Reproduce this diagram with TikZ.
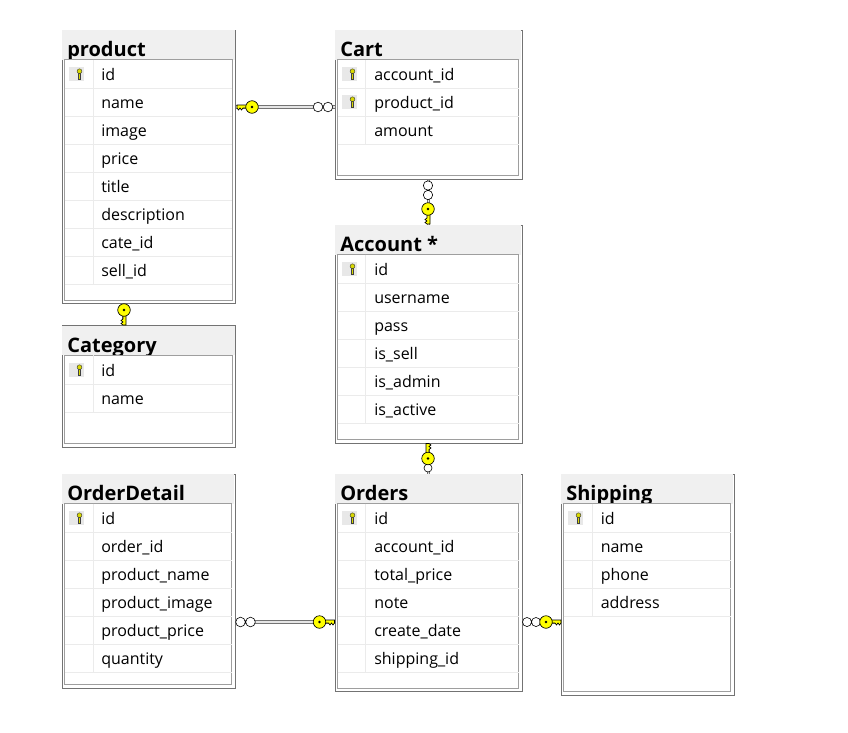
\documentclass[tikz,border=0pt]{standalone}
\usepackage{fontspec}
\setmainfont{Open Sans}
\definecolor{keyyellow}{HTML}{FFFF00}
\tikzset{
    tabframe/.style={draw=black!55, fill=white, line width=0.75pt, anchor=north west, inner sep=0pt},
    headfill/.style={fill=black!6},
    innerframe/.style={draw=black!38, fill=white, line width=0.75pt},
    rowline/.style={draw=black!8, line width=0.75pt},
    tabtitle/.style={anchor=base west, inner sep=0pt, font=\fontsize{15}{18}\selectfont\bfseries},
    coltext/.style={anchor=base west, inner sep=0pt, font=\fontsize{12}{14}\selectfont},
    relline/.style={draw=black!55, double=black!10, double distance=0.9pt, line width=0.7pt},
    manyend/.style={draw=black, fill=white, line width=0.45pt},
    keyline/.style={draw=black, fill=keyyellow, line width=0.5pt},
    pkey/.pic={
        \fill[black!9] (0,-7) rectangle (15.5,7);
        \filldraw[draw=black!75, fill=keyyellow!85!black, line width=0.35pt] (10,-1) rectangle (12,5.5);
        \filldraw[draw=black!75, fill=keyyellow!85!black, line width=0.35pt] (11,-2.8) circle[radius=1.8pt];
    },
    relkey/.pic={
        \filldraw[keyline] (4,-2) -- (15,-2) -- (15,1) -- (13.5,3) -- (12,1) -- (10.5,3) -- (9,1) -- (4,1) -- cycle;
        \filldraw[keyline] (0,0) circle[radius=4.7pt];
        \fill (0,0) circle[radius=1pt];
    }
}
\begin{document}
\begin{tikzpicture}[x=0.75pt,y=-0.75pt]
    \useasboundingbox (0,0) rectangle (848,732);

    \node[tabframe, minimum width=173.5*0.75pt, minimum height=273.5*0.75pt] (product) at (61.5,29.5) {};
    \fill[headfill] (62,30) rectangle (234.5,59.5);
    \node[tabtitle] (product-title) at (67,56.5) {product};
    \draw[innerframe] (64.5,59.5) rectangle (232,300);
    \draw[rowline] (64.5,88) -- (232,88) (64.5,116) -- (232,116) (64.5,144) -- (232,144) (64.5,172) -- (232,172)
        (64.5,200) -- (232,200) (64.5,228) -- (232,228) (64.5,256) -- (232,256) (64.5,284) -- (232,284) (93,59.5) -- (93,284);
    \pic at (68.5,74) {pkey};
    \node[coltext] (product-id) at (101,80.5) {id};
    \node[coltext] (product-name) at (101,108.5) {name};
    \node[coltext] (product-image) at (101,136.5) {image};
    \node[coltext] (product-price) at (101,164.5) {price};
    \node[coltext] (product-titlecol) at (101,192.5) {title};
    \node[coltext] (product-desc) at (101,220.5) {description};
    \node[coltext] (product-cate) at (101,248.5) {cate\_id};
    \node[coltext] (product-sell) at (101,276.5) {sell\_id};

    \node[tabframe, minimum width=173.5*0.75pt, minimum height=121.5*0.75pt] (category) at (61.5,325) {};
    \fill[headfill] (62,325.5) rectangle (234.5,355);
    \node[tabtitle] (category-title) at (67,352) {Category};
    \draw[innerframe] (64.5,355) rectangle (232,443.5);
    \draw[rowline] (64.5,384) -- (232,384) (64.5,412) -- (232,412) (93,355) -- (93,412);
    \pic at (68.5,370) {pkey};
    \node[coltext] (category-id) at (101,376.5) {id};
    \node[coltext] (category-name) at (101,404.5) {name};

    \node[tabframe, minimum width=187*0.75pt, minimum height=149*0.75pt] (cart) at (334.5,29.5) {};
    \fill[headfill] (335,30) rectangle (521,59.5);
    \node[tabtitle] (cart-title) at (340,56.5) {Cart};
    \draw[innerframe] (337.5,59.5) rectangle (518.5,175.5);
    \draw[rowline] (337.5,88) -- (518.5,88) (337.5,116) -- (518.5,116) (337.5,144) -- (518.5,144) (365.5,59.5) -- (365.5,144);
    \pic at (341.5,74) {pkey};
    \pic at (341.5,102) {pkey};
    \node[coltext] (cart-account) at (374,80.5) {account\_id};
    \node[coltext] (cart-product) at (374,108.5) {product\_id};
    \node[coltext] (cart-amount) at (374,136.5) {amount};

    \node[tabframe, minimum width=187*0.75pt, minimum height=218*0.75pt] (account) at (334.5,224.5) {};
    \fill[headfill] (335,225) rectangle (521,254.5);
    \node[tabtitle] (account-title) at (340,251.5) {Account *};
    \draw[innerframe] (337.5,254.5) rectangle (518.5,439.5);
    \draw[rowline] (337.5,283) -- (518.5,283) (337.5,311) -- (518.5,311) (337.5,339) -- (518.5,339) (337.5,367) -- (518.5,367)
        (337.5,395) -- (518.5,395) (337.5,423) -- (518.5,423) (365.5,254.5) -- (365.5,423);
    \pic at (341.5,269) {pkey};
    \node[coltext] (account-id) at (374,275.5) {id};
    \node[coltext] (account-user) at (374,303.5) {username};
    \node[coltext] (account-pass) at (374,331.5) {pass};
    \node[coltext] (account-sell) at (374,359.5) {is\_sell};
    \node[coltext] (account-admin) at (374,387.5) {is\_admin};
    \node[coltext] (account-active) at (374,415.5) {is\_active};

    \node[tabframe, minimum width=173*0.75pt, minimum height=214*0.75pt] (orderdetail) at (61.5,473.5) {};
    \fill[headfill] (62,474) rectangle (234,503.5);
    \node[tabtitle] (orderdetail-title) at (67,500.5) {OrderDetail};
    \draw[innerframe] (64.5,503.5) rectangle (231.5,684.5);
    \draw[rowline] (64.5,532) -- (231.5,532) (64.5,560) -- (231.5,560) (64.5,588) -- (231.5,588) (64.5,616) -- (231.5,616)
        (64.5,644) -- (231.5,644) (64.5,672) -- (231.5,672) (93,503.5) -- (93,672);
    \pic at (68.5,518) {pkey};
    \node[coltext] (orderdetail-id) at (101,524.5) {id};
    \node[coltext] (orderdetail-order) at (101,552.5) {order\_id};
    \node[coltext] (orderdetail-pname) at (101,580.5) {product\_name};
    \node[coltext] (orderdetail-pimage) at (101,608.5) {product\_image};
    \node[coltext] (orderdetail-pprice) at (101,636.5) {product\_price};
    \node[coltext] (orderdetail-qty) at (101,664.5) {quantity};

    \node[tabframe, minimum width=187*0.75pt, minimum height=217.5*0.75pt] (orders) at (334.5,473.5) {};
    \fill[headfill] (335,474) rectangle (521,503.5);
    \node[tabtitle] (orders-title) at (340,500.5) {Orders};
    \draw[innerframe] (337.5,503.5) rectangle (518.5,688);
    \draw[rowline] (337.5,532) -- (518.5,532) (337.5,560) -- (518.5,560) (337.5,588) -- (518.5,588) (337.5,616) -- (518.5,616)
        (337.5,644) -- (518.5,644) (337.5,672) -- (518.5,672) (365.5,503.5) -- (365.5,672);
    \pic at (341.5,518) {pkey};
    \node[coltext] (orders-id) at (374,524.5) {id};
    \node[coltext] (orders-account) at (374,552.5) {account\_id};
    \node[coltext] (orders-total) at (374,580.5) {total\_price};
    \node[coltext] (orders-note) at (374,608.5) {note};
    \node[coltext] (orders-date) at (374,636.5) {create\_date};
    \node[coltext] (orders-ship) at (374,664.5) {shipping\_id};

    \node[tabframe, minimum width=173*0.75pt, minimum height=221*0.75pt] (shipping) at (560.5,473.5) {};
    \fill[headfill] (561,474) rectangle (733,503.5);
    \node[tabtitle] (shipping-title) at (566,500.5) {Shipping};
    \draw[innerframe] (563.5,503.5) rectangle (730.5,691.5);
    \draw[rowline] (563.5,532) -- (730.5,532) (563.5,560) -- (730.5,560) (563.5,588) -- (730.5,588) (563.5,616) -- (730.5,616) (592,503.5) -- (592,616);
    \pic at (567.5,518) {pkey};
    \node[coltext] (shipping-id) at (600.5,524.5) {id};
    \node[coltext] (shipping-name) at (600.5,552.5) {name};
    \node[coltext] (shipping-phone) at (600.5,580.5) {phone};
    \node[coltext] (shipping-address) at (600.5,608.5) {address};

    \draw[relline] (product.east |- 0,107) -- (cart.west |- 0,107);
    \draw[relline] (cart.south) -- (account.north);
    \draw[relline] (product.south -| 124,0) -- (category.north -| 124,0);
    \draw[relline] (account.south) -- (orders.north);
    \draw[relline] (orderdetail.east |- 0,622) -- (orders.west |- 0,622);
    \draw[relline] (orders.east |- 0,622) -- (shipping.west |- 0,622);

    \draw[manyend] (318,107) circle[radius=3.6pt] (328,107) circle[radius=3.6pt];
    \pic[xscale=-1] at (252,107) {relkey};
    \draw[manyend] (428,185.5) circle[radius=3.5pt] (428,195) circle[radius=3.5pt];
    \pic[rotate=-90] at (428,209) {relkey};
    \pic[rotate=-90] at (124,310) {relkey};
    \draw[manyend] (428,468) circle[radius=3pt];
    \pic[rotate=90] at (428,458.5) {relkey};
    \draw[manyend] (240.5,622) circle[radius=3.6pt] (250.5,622) circle[radius=3.6pt];
    \pic at (319.5,622) {relkey};
    \draw[manyend] (527,622) circle[radius=3.4pt] (536,622) circle[radius=3.4pt];
    \pic at (546,622) {relkey};
\end{tikzpicture}
\end{document}
